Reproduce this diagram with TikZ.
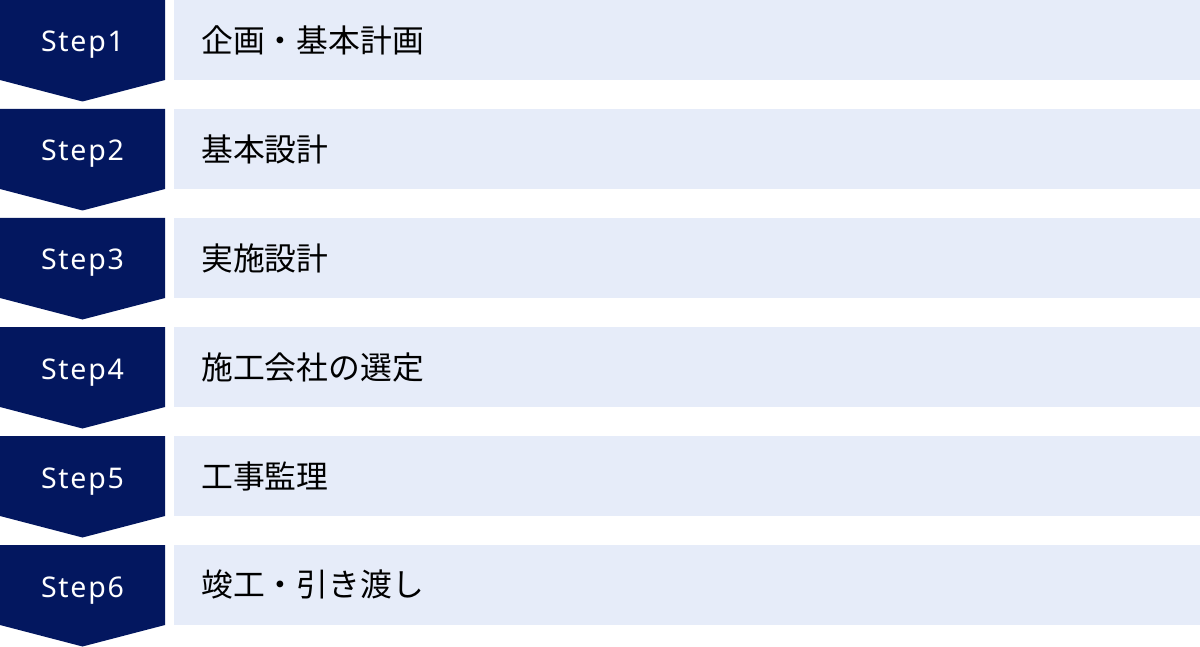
\documentclass[tikz,border=0pt]{standalone}
\usepackage{fontspec}
\setmainfont{Noto Sans}
\newfontfamily\jpfont{Noto Sans CJK JP}
\usepackage{tikz}
\usetikzlibrary{positioning}
\definecolor{azulpaso}{HTML}{03175F}
\definecolor{fondobarra}{HTML}{E6ECF9}
\tikzset{
  pasotexto/.style={text=white, inner sep=0pt, anchor=base,
    font=\fontsize{28.5}{32}\selectfont\addfontfeature{LetterSpace=6}},
  barratexto/.style={text=black, inner sep=0pt, anchor=west,
    font=\jpfont\fontsize{31.8}{36}\selectfont}
}
\begin{document}
\begin{tikzpicture}[x=1pt,y=-1pt]
    \useasboundingbox (0,0) rectangle (1200,647);
    % Flechas y barras de cada paso
    \foreach \i/\etapa in {1/企画・基本計画,2/基本設計,3/実施設計,4/施工会社の選定,5/工事監理,6/竣工・引き渡し} {
        \pgfmathsetmacro{\arriba}{(\i-1)*109}
        \fill[azulpaso] (0,\arriba) -- (165,\arriba) -- (165,\arriba+80)
            -- (82.5,\arriba+101.5) -- (0,\arriba+80) -- cycle;
        \fill[fondobarra] (174,\arriba) rectangle (1200,\arriba+80);
        \node[pasotexto] (paso\i) at (82.5,\arriba+52) {Step\i};
        \node[barratexto] (etapa\i) at (201,\arriba+40) {\etapa};
    }
\end{tikzpicture}
\end{document}
